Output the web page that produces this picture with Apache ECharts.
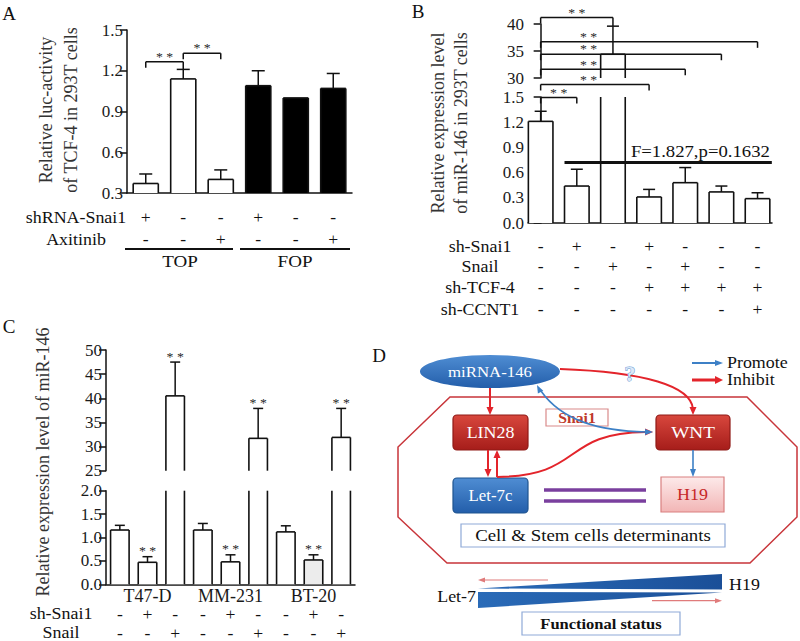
<!DOCTYPE html>
<html><head><meta charset="utf-8">
<script src="https://cdn.jsdelivr.net/npm/echarts@6/dist/echarts.min.js"></script>
<style>html,body{margin:0;padding:0;background:#fff}#c{width:800px;height:641px}</style>
</head><body><div id="c"></div>
<script>
// ---------- Panel A data ----------
const aCategories = ['shSnai1-TOP', 'ctrl-TOP', 'Axitinib-TOP', 'shSnai1-FOP', 'ctrl-FOP', 'Axitinib-FOP'];
const aValues = [0.37, 1.14, 0.40, 1.09, 1.00, 1.07];
const aErrTop = [0.44, 1.21, 0.47, 1.20, 1.00, 1.18];
const aGroup = ['TOP', 'TOP', 'TOP', 'FOP', 'FOP', 'FOP'];
const aShRNA = ['+', '-', '-', '+', '-', '-'];
const aAxitinib = ['-', '-', '+', '-', '-', '+'];
const aBrackets = [[0, 1, 1.267], [1, 2, 1.329]];
// ---------- Panel B data ----------
const bValues = [1.21, 0.44, 34.4, 0.31, 0.48, 0.37, 0.29];
const bErrTop = [1.33, 0.64, 39.6, 0.40, 0.66, 0.44, 0.36];
const bShSnai1 = ['-', '+', '-', '+', '-', '-', '-'];
const bSnail = ['-', '-', '+', '-', '+', '-', '-'];
const bShTCF4 = ['-', '-', '-', '+', '+', '+', '+'];
const bShCCNT1 = ['-', '-', '-', '-', '-', '-', '+'];
const bBrackets = [[0, 2, 41.2], [0, 6, 36.7], [0, 5, 34.4], [0, 4, 31.6], [0, 3, 28.8], [0, 1, 26.4]];
const bFTest = [[1, 6, 0.72]];
const bFText = 'F=1.827,p=0.1632';
// ---------- Panel C data ----------
const cCellLines = ['T47-D', 'MM-231', 'BT-20'];
const cValues = [1.16, 0.47, 40.5, 1.16, 0.48, 31.7, 1.12, 0.52, 31.9];
const cErrTop = [1.26, 0.59, 47.5, 1.30, 0.63, 37.9, 1.25, 0.63, 37.9];
const cShSnai1 = ['-', '+', '-', '-', '+', '-', '-', '+', '-'];
const cSnail = ['-', '-', '+', '-', '-', '+', '-', '-', '+'];
const cStars = ['', '**', '**', '', '**', '**', '', '**', '**'];
const cCategories = cValues.map((v, i) => cCellLines[Math.floor(i / 3)] + '-' + (i % 3));

// ---------- styling helpers ----------
const FONT = 'Liberation Serif, Times New Roman, serif';
const INK = '#111';
function ln(x1, y1, x2, y2, w, c) {
  return { type: 'line', shape: { x1, y1, x2, y2 }, style: { stroke: c || INK, lineWidth: w || 1.5 } };
}
function txt(t, x, y, o) {
  o = o || {};
  return {
    type: 'text', x, y, rotation: o.rotation || 0, scaleX: o.sx || 1,
    style: {
      text: t, fill: o.fill || INK, fontSize: o.size || 17, fontFamily: FONT,
      fontWeight: o.weight || 'normal', lineHeight: o.lh,
      textAlign: o.align || 'center', textVerticalAlign: o.va || 'middle',
      stroke: o.stroke, lineWidth: o.strokeW
    }
  };
}
function stars(x, y) {
  return txt('* *', x, y, { size: 12, lh: 10, fill: '#2a2a2a', sx: 1.15 });
}
function head(x, y, ang, len, wid, color) {
  const c = Math.cos(ang), s = Math.sin(ang);
  const bx = x - c * len, by = y - s * len;
  return { type: 'polygon', shape: { points: [[x, y], [bx - s * wid / 2, by + c * wid / 2], [bx + s * wid / 2, by - c * wid / 2]] }, style: { fill: color } };
}

function barItem(ratio, fillFor) {
  return function (params, api) {
    const i = api.value(0), v = api.value(1);
    const cs = params.coordSys;
    const yMin = cs.y, yMax = cs.y + cs.height;
    const p = api.coord([i, v]);
    const b = api.coord([i, 0]);
    const w = api.size([1, 0])[0] * ratio;
    if (p[1] > yMax + 0.5) return null;
    const yt = Math.max(p[1], yMin), yb = Math.min(b[1], yMax);
    const x0 = p[0] - w / 2, x1 = p[0] + w / 2;
    const ch = [
      { type: 'rect', shape: { x: x0, y: yt, width: w, height: yb - yt }, style: { fill: fillFor(params.dataIndex) } },
      ln(x0, yt, x0, yb, 1.6), ln(x1, yt, x1, yb, 1.6)
    ];
    if (p[1] >= yMin - 0.5) ch.push(ln(x0, yt, x1, yt, 1.6));
    return { type: 'group', children: ch };
  };
}
function errItem(capW, starList) {
  return function (params, api) {
    const i = api.value(0), v = api.value(1), e = api.value(2);
    if (!(e > v)) return null;
    const cs = params.coordSys, yMin = cs.y, yMax = cs.y + cs.height;
    const p = api.coord([i, v]), q = api.coord([i, e]);
    if (q[1] < yMin - 1 || q[1] > yMax) return null;
    const y1 = Math.min(p[1], yMax);
    const ch = [ln(p[0], y1, p[0], q[1], 1.5), ln(p[0] - capW / 2, q[1], p[0] + capW / 2, q[1], 1.5)];
    const s = starList && starList[params.dataIndex];
    if (s) ch.push(stars(p[0], q[1] - 5.5));
    return { type: 'group', children: ch };
  };
}
function bracketItem(errTop) {
  return function (params, api) {
    const f = api.value(0), t = api.value(1), lv = api.value(2);
    const a = api.coord([f, lv]), b = api.coord([t, lv]);
    const y = a[1];
    let yr = y + 6;
    const cap = api.coord([t, errTop[t]])[1];
    if (cap > y && cap - y < 12) yr = cap;
    const cx = Math.min((a[0] + b[0]) / 2, a[0] + 48);
    return {
      type: 'group', children: [
        ln(a[0], y, b[0], y, 1.5), ln(a[0], y, a[0], y + 6, 1.5), ln(b[0], y, b[0], yr, 1.5),
        stars(cx, y - 5)
      ]
    };
  };
}
function rowItem(rows, offsets) {
  return function (params, api) {
    const i = api.value(0), r = api.value(1);
    const cs = params.coordSys;
    const x = api.coord([i, 0])[0];
    return txt(rows[r][i], x, cs.y + cs.height + offsets[r], { size: 16, sx: 1.1 });
  };
}
function rowData(rows) {
  const d = [];
  rows.forEach((row, r) => row.forEach((s, i) => d.push([i, r])));
  return d;
}

const yAxisBase = {
  type: 'value',
  axisLine: { show: true, lineStyle: { color: INK, width: 1.5 } },
  axisTick: { show: true, length: 7, lineStyle: { color: INK, width: 1.5 } },
  axisLabel: { fontSize: 17, fontFamily: FONT, color: '#1a1a1a', margin: 4 },
  splitLine: { show: false }
};
function yA(o) { return Object.assign({}, yAxisBase, o); }
const hiddenX = { axisLine: { show: false }, axisTick: { show: false }, axisLabel: { show: false }, splitLine: { show: false } };
const lineX = { axisLine: { show: true, lineStyle: { color: INK, width: 1.5 } }, axisTick: { show: false }, axisLabel: { show: false }, splitLine: { show: false } };
const fmt1 = Object.assign({}, yAxisBase.axisLabel, { formatter: v => v.toFixed(1) });

const gridBase = { containLabel: false, outerBoundsMode: 'none' };
const option = {
  animation: false,
  backgroundColor: '#fff',
  textStyle: { fontFamily: FONT },
  grid: [
    Object.assign({ left: 127, top: 30, width: 225, height: 163 }, gridBase),
    Object.assign({ left: 528, top: 24, width: 244, height: 54 }, gridBase),
    Object.assign({ left: 528, top: 97, width: 244, height: 126 }, gridBase),
    Object.assign({ left: 106, top: 350, width: 249, height: 120.7 }, gridBase),
    Object.assign({ left: 106, top: 490.7, width: 249, height: 93.6 }, gridBase)
  ],
  xAxis: [
    Object.assign({ gridIndex: 0, type: 'category', data: aCategories }, lineX),
    Object.assign({ gridIndex: 1, type: 'value', min: -0.35, max: 6.4 }, hiddenX),
    Object.assign({ gridIndex: 2, type: 'value', min: -0.35, max: 6.4 }, lineX),
    Object.assign({ gridIndex: 3, type: 'category', data: cCategories }, hiddenX),
    Object.assign({ gridIndex: 4, type: 'category', data: cCategories }, lineX, {
      axisLabel: {
        show: true, interval: 0, margin: 3, fontSize: 18, fontFamily: FONT, color: '#1a1a1a',
        formatter: (v, i) => (i % 3 === 1 ? cCellLines[(i - 1) / 3] : '')
      }
    })
  ],
  yAxis: [
    yA({ gridIndex: 0, min: 0.3, max: 1.5, interval: 0.3, axisLabel: fmt1 }),
    yA({ gridIndex: 1, min: 30, max: 40, interval: 5 }),
    yA({ gridIndex: 2, min: 0, max: 1.5, interval: 0.3, axisLabel: fmt1 }),
    yA({ gridIndex: 3, min: 25, max: 50, interval: 5 }),
    yA({ gridIndex: 4, min: 0, max: 2, interval: 0.5, axisLabel: fmt1 })
  ],
  series: [
    // Panel A
    { type: 'custom', xAxisIndex: 0, yAxisIndex: 0, silent: true, data: aValues.map((v, i) => [i, v]),
      renderItem: barItem(0.67, i => (aGroup[i] === 'FOP' ? '#000' : '#fff')) },
    { type: 'custom', xAxisIndex: 0, yAxisIndex: 0, silent: true, data: aValues.map((v, i) => [i, v, aErrTop[i]]),
      renderItem: errItem(13) },
    { type: 'custom', xAxisIndex: 0, yAxisIndex: 0, silent: true, data: aBrackets, renderItem: bracketItem(aErrTop) },
    { type: 'custom', xAxisIndex: 0, yAxisIndex: 0, silent: true, data: rowData([aShRNA, aAxitinib]),
      renderItem: rowItem([aShRNA, aAxitinib], [25, 47]) },
    // Panel B
    { type: 'custom', xAxisIndex: 1, yAxisIndex: 1, silent: true, data: bValues.map((v, i) => [i, v]),
      renderItem: barItem(0.68, () => '#fff') },
    { type: 'custom', xAxisIndex: 2, yAxisIndex: 2, silent: true, data: bValues.map((v, i) => [i, v]),
      renderItem: barItem(0.68, () => '#fff') },
    { type: 'custom', xAxisIndex: 1, yAxisIndex: 1, silent: true, data: bValues.map((v, i) => [i, v, bErrTop[i]]),
      renderItem: errItem(12) },
    { type: 'custom', xAxisIndex: 2, yAxisIndex: 2, silent: true, data: bValues.map((v, i) => [i, v, bErrTop[i]]),
      renderItem: errItem(12) },
    { type: 'custom', xAxisIndex: 1, yAxisIndex: 1, silent: true, data: bBrackets, renderItem: bracketItem(bErrTop) },
    { type: 'custom', xAxisIndex: 2, yAxisIndex: 2, silent: true, data: bFTest,
      renderItem: function (params, api) {
        const f = api.value(0), t = api.value(1), lv = api.value(2);
        const w = api.size([1, 0])[0] * 0.68;
        const a = api.coord([f, lv]), b = api.coord([t, lv]);
        const x2 = b[0] + w / 2 + 2;
        return { type: 'group', children: [ln(a[0] - w / 2, a[1], x2, a[1], 3), txt(bFText, x2 - 2, a[1] - 11, { align: 'right', size: 17, sx: 1.1 })] };
      } },
    { type: 'custom', xAxisIndex: 2, yAxisIndex: 2, silent: true, data: rowData([bShSnai1, bSnail, bShTCF4, bShCCNT1]),
      renderItem: rowItem([bShSnai1, bSnail, bShTCF4, bShCCNT1], [24, 44, 65, 87]) },
    // Panel C
    { type: 'custom', xAxisIndex: 3, yAxisIndex: 3, silent: true, data: cValues.map((v, i) => [i, v]),
      renderItem: barItem(0.67, i => (i === 7 ? '#ececec' : '#fff')) },
    { type: 'custom', xAxisIndex: 4, yAxisIndex: 4, silent: true, data: cValues.map((v, i) => [i, v]),
      renderItem: barItem(0.67, i => (i === 7 ? '#ececec' : '#fff')) },
    { type: 'custom', xAxisIndex: 3, yAxisIndex: 3, silent: true, data: cValues.map((v, i) => [i, v, cErrTop[i]]),
      renderItem: errItem(10, cStars) },
    { type: 'custom', xAxisIndex: 4, yAxisIndex: 4, silent: true, data: cValues.map((v, i) => [i, v, cErrTop[i]]),
      renderItem: errItem(10, cStars) },
    { type: 'custom', xAxisIndex: 4, yAxisIndex: 4, silent: true, data: rowData([cShSnai1, cSnail]),
      renderItem: rowItem([cShSnai1, cSnail], [30, 49]) }
  ]
};

// ---------- annotations and diagram (panel D) ----------
const RED = '#e3242b', BLUE = '#3d80c6';
const gRed = { type: 'linear', x: 0, y: 0, x2: 0, y2: 1, colorStops: [{ offset: 0, color: '#d8473d' }, { offset: 1, color: '#a61d1a' }] };
const gBlue = { type: 'linear', x: 0, y: 0, x2: 0, y2: 1, colorStops: [{ offset: 0, color: '#4f8dd3' }, { offset: 1, color: '#235eaa' }] };
const gPink = { type: 'linear', x: 0, y: 0, x2: 0, y2: 1, colorStops: [{ offset: 0, color: '#fdeaea' }, { offset: 1, color: '#f2b5b5' }] };
const gWedge = { type: 'linear', x: 0, y: 0, x2: 1, y2: 0, colorStops: [{ offset: 0, color: '#2a6bb8' }, { offset: 1, color: '#1b4f98' }] };
function box(x, y, w, h, fill, stroke, r) {
  return { type: 'rect', shape: { x, y, width: w, height: h, r: r || 0 }, style: { fill, stroke, lineWidth: 1.2 } };
}
function bez(p, color, w) {
  return { type: 'bezierCurve', shape: { x1: p[0], y1: p[1], cpx1: p[2], cpy1: p[3], cpx2: p[4], cpy2: p[5], x2: p[6], y2: p[7] }, style: { stroke: color, lineWidth: w, fill: null } };
}
const SX = 1.12;
const elements = [
  // panel letters
  txt('A', 9, 13, { size: 19 }), txt('B', 418, 11, { size: 19 }), txt('C', 9, 326, { size: 19 }), txt('D', 379, 355, { size: 19 }),
  // axis titles
  txt('Relative luc-activity\nof TCF-4 in 293T cells', 58, 110, { rotation: Math.PI / 2, size: 18, lh: 25, fill: '#333' }),
  txt('Relative expression level\nof miR-146 in 293T cells', 449, 123, { rotation: Math.PI / 2, size: 18, lh: 23, fill: '#333' }),
  txt('Relative expression level of miR-146', 43, 462, { rotation: Math.PI / 2, size: 18, fill: '#333' }),
  // row names
  txt('shRNA-Snai1', 76, 218, { size: 16, sx: SX }), txt('Axitinib', 76, 240, { size: 16, sx: SX }),
  txt('sh-Snai1', 480, 247, { size: 16, sx: SX }), txt('Snail', 480, 267, { size: 16, sx: SX }),
  txt('sh-TCF-4', 480, 288, { size: 16, sx: SX }), txt('sh-CCNT1', 480, 310, { size: 16, sx: SX }),
  txt('sh-Snai1', 61, 614, { size: 16, sx: SX }), txt('Snail', 61, 633, { size: 16, sx: SX }),
  // group lines in A
  ln(125, 249, 233, 249, 2), ln(240, 249, 350, 249, 2),
  txt('TOP', 180, 261, { size: 17, sx: SX }), txt('FOP', 295, 261, { size: 17, sx: SX }),

  // ---- panel D ----
  { type: 'polygon', shape: { points: [[450, 397], [747, 397], [797, 447], [797, 517], [750, 563], [447, 563], [398, 517], [398, 447]] }, style: { fill: null, stroke: '#c8353a', lineWidth: 1.5 } },
  { type: 'circle', x: 490, y: 371.5, scaleX: 70 / 16.5, shape: { cx: 0, cy: 0, r: 16.5 }, style: { fill: gBlue } },
  txt('miRNA-146', 490, 372, { size: 15, fill: '#fff', sx: SX }),
  box(453, 415, 75, 35, gRed, '#8f1a17', 4), txt('LIN28', 490.5, 433, { size: 16, fill: '#fff', sx: SX }),
  box(656, 415, 74, 35, gRed, '#8f1a17', 4), txt('WNT', 693, 433, { size: 16, fill: '#fff', sx: 1.2 }),
  box(453, 478, 75, 35, gBlue, '#1f548f', 4), txt('Let-7c', 490.5, 496, { size: 16, fill: '#fff', sx: 1.05 }),
  box(661, 477, 63, 35, gPink, '#d98080', 0), txt('H19', 692.5, 495, { size: 16, fill: '#c62828', sx: SX }),
  box(546, 409, 62, 17, '#fff', '#d98a8a', 0), txt('Snai1', 577, 418, { size: 14, fill: '#c0392b', weight: 'bold', sx: SX }),
  ln(544, 490, 646, 490, 3.5, '#7a3f9e'), ln(544, 501, 646, 501, 3.5, '#7a3f9e'),
  box(461, 524, 264, 23, '#fff', '#8faad8', 0), txt('Cell & Stem cells determinants', 593, 536, { size: 16, sx: 1.18 }),
  // arrows
  ln(490, 388, 490, 409, 2, RED), head(490, 415, Math.PI / 2, 8, 7, RED),
  bez([560, 369, 645, 372, 691, 386, 693, 409], RED, 2), head(693, 415, Math.PI / 2, 8, 7, RED),
  ln(488, 450, 488, 471, 2, RED), head(488, 477, Math.PI / 2, 8, 7, RED),
  ln(497, 477, 497, 456, 2, RED), head(497, 450, -Math.PI / 2, 8, 7, RED),
  bez([497, 477, 585, 476, 560, 433, 646, 432], RED, 2), head(653, 432, 0, 8, 7, RED),
  bez([541, 391, 562, 421, 600, 431, 646, 432], BLUE, 1.6), head(653, 432, 0, 8, 6, BLUE),
  head(537, 385, Math.atan2(-10, -5), 8, 6, BLUE),
  ln(693, 450, 693, 471, 1.6, BLUE), head(693, 477, Math.PI / 2, 8, 6, BLUE),
  txt('?', 630, 373, { size: 22, fill: '#dce9f8', stroke: '#6b9bd6', strokeW: 1, weight: 'bold' }),
  // legend
  ln(692, 363, 716, 363, 2, BLUE), head(723, 363, 0, 8, 6, BLUE), txt('Promote', 727, 363, { size: 16, align: 'left', sx: SX }),
  ln(692, 380, 716, 380, 3, RED), head(723, 380, 0, 8, 8, RED), txt('Inhibit', 727, 380, { size: 16, align: 'left', sx: SX }),
  // functional status
  { type: 'polygon', shape: { points: [[478, 588.5], [722, 574], [722, 589.5]] }, style: { fill: gWedge } },
  { type: 'polygon', shape: { points: [[478, 592], [722, 592.5], [478, 608]] }, style: { fill: gWedge } },
  ln(548, 580, 484, 580, 1.2, '#e07b7b'), head(478, 580, Math.PI, 7, 5, '#e07b7b'),
  ln(652, 600.7, 716, 600.7, 1.2, '#e07b7b'), head(722, 600.7, 0, 7, 5, '#e07b7b'),
  txt('H19', 729, 585, { size: 16, align: 'left', sx: SX }), txt('Let-7', 476, 597, { size: 16, align: 'right', sx: SX }),
  box(522, 612, 158, 23, '#fff', '#8faad8', 0), txt('Functional status', 601, 624, { size: 15, weight: 'bold', sx: 1.1 })
];
option.graphic = { elements: elements };

const chart = echarts.init(document.getElementById('c'), null, { renderer: 'svg' });
chart.setOption(option);
</script>
</body></html>
